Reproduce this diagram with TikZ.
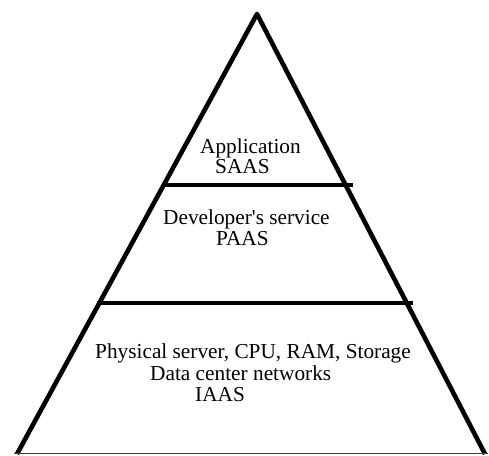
\documentclass[tikz,border=0pt]{standalone}
\usepackage{fontspec}
\setmainfont{Liberation Serif}
\begin{document}
\begin{tikzpicture}[x=1pt,y=-1pt,
  edge/.style={line width=4.6pt,line join=round},
  label/.style={anchor=base west,inner sep=0pt,font=\fontsize{21.3}{22}\selectfont}]
\useasboundingbox (0,0) rectangle (489,455);
% pyramid outline
\coordinate (apex) at (257,14);
\coordinate (bl) at (17,454);
\coordinate (br) at (485,454);
\draw[edge] (bl) -- (apex) -- (br);
% thin base line
\draw[line width=1.2pt,black!75] (14,453.5) -- (488,453.5);
% layer separators
\draw[edge,line cap=butt] (165,185) -- (353,185);
\draw[edge,line cap=butt] (97,303) -- (413,303);
% layer labels
\node[label] (app)  at (200,153) {Application};
\node[label] (saas) at (215,173) {SAAS};
\node[label] (dev)  at (163,224) {Developer\textquotesingle s service};
\node[label] (paas) at (216,245) {PAAS};
\node[label] (phys) at (95,358)  {Physical server, CPU, RAM, Storage};
\node[label] (dcn)  at (150,380) {Data center networks};
\node[label] (iaas) at (195,401) {IAAS};
\end{tikzpicture}
\end{document}
